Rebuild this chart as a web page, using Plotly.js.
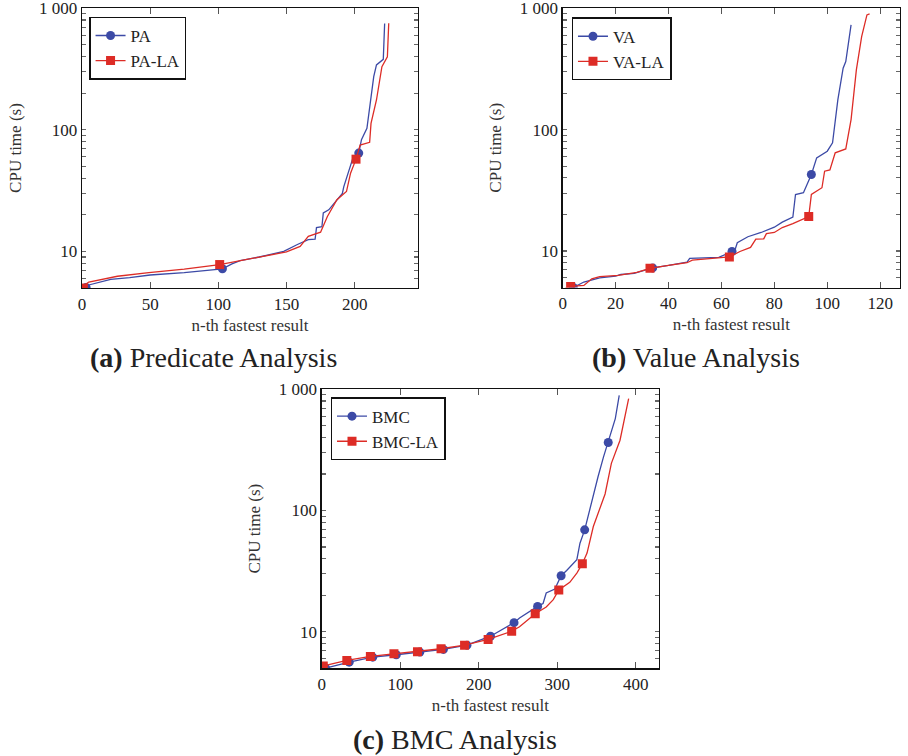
<!DOCTYPE html>
<html>
<head>
<meta charset="utf-8">
<script src="https://cdn.plot.ly/plotly-3.0.1.min.js"></script>
<style>html,body{margin:0;padding:0;background:#fff;}#chart{width:908px;height:756px;}</style>
</head>
<body>
<div id="chart"></div>
<script>
// ---------- data ----------
// (a) Predicate Analysis
var paX  = [1, 3, 5, 10, 21, 35, 50, 75, 97, 103, 110, 116, 130, 148, 158, 166, 171, 172, 176, 177, 181, 185, 191, 192, 196, 199, 203, 205, 209, 211, 214, 216, 220, 221, 222];
var paY  = [4.9, 5.05, 5.3, 5.5, 5.9, 6.1, 6.4, 6.7, 7.05, 7.2, 7.9, 8.4, 9.0, 10.0, 11.4, 12.5, 12.6, 15.7, 16.0, 20.7, 22, 24.7, 30, 34, 48, 60, 64.4, 83, 103, 150, 274, 342, 376, 380, 750];
var paMarks = [3, 103, 203];
var plaX = [1, 3, 5, 13, 26, 49, 75, 101, 123, 150, 160, 166, 175, 180, 187, 194, 197, 201, 204, 211, 212, 216, 220, 224, 225];
var plaY = [5.0, 5.4, 5.6, 5.85, 6.25, 6.7, 7.15, 7.8, 8.65, 9.9, 11, 13.3, 14.4, 19.4, 26.6, 31.1, 44, 57.4, 75, 79, 113, 176, 331, 398, 754];
var plaMarks = [1, 101, 201];

// (b) Value Analysis
var vaX  = [1, 4, 8, 14, 20, 22, 27, 34, 40, 47, 48, 59, 64, 65, 66, 70, 75, 80, 83, 87, 88, 91, 94, 96, 100, 102, 104, 106, 107, 109];
var vaY  = [4.85, 5.0, 5.55, 6.0, 6.2, 6.4, 6.55, 7.25, 7.6, 8.1, 8.7, 8.85, 9.9, 10.0, 11.7, 13.1, 14.2, 15.7, 17.3, 19.0, 29.2, 30.2, 42.7, 58.5, 66.4, 77.8, 176, 321, 364, 730];
var vaMarks = [4, 34, 64, 94];
var vlaX = [1, 3, 8, 11, 14, 21, 28, 33, 40, 47, 49, 59, 63, 67, 71, 73, 76, 77, 80, 83, 87, 93, 94, 98, 99, 101, 103, 107, 109, 111, 113, 115, 116];
var vlaY = [4.95, 5.1, 5.2, 5.9, 6.15, 6.3, 6.65, 7.2, 7.6, 8.0, 8.4, 8.7, 8.93, 9.9, 10.7, 12.5, 12.6, 13.9, 14.2, 15.6, 16.8, 19.2, 29.2, 33.2, 45.4, 46.5, 64.4, 69.3, 121, 311, 584, 881, 898];
var vlaMarks = [3, 33, 63, 93];

// (c) BMC Analysis
var bmcX = [1, 5, 35, 65, 95, 125, 155, 185, 215, 245, 252, 275, 282, 286, 297, 305, 312, 325, 329, 335, 344, 352, 359, 365, 374, 379];
var bmcY = [4.9, 5.02, 5.62, 6.18, 6.47, 6.8, 7.16, 7.76, 9.2, 11.9, 13.0, 16.2, 17.1, 20.9, 22.5, 29.0, 32, 39.3, 53.8, 69.3, 122, 190, 277, 364, 573, 891];
var bmcMarks = [5, 35, 65, 95, 125, 155, 185, 215, 245, 275, 305, 335, 365];
var blaX = [1, 2, 32, 62, 92, 122, 152, 182, 212, 242, 252, 272, 286, 295, 302, 316, 325, 332, 338, 346, 361, 369, 380, 391];
var blaY = [5.2, 5.22, 5.81, 6.26, 6.59, 6.85, 7.25, 7.76, 8.65, 10.1, 11, 14.1, 16.0, 18.4, 22.1, 25.6, 30.5, 36.4, 44.6, 73.8, 137, 245, 380, 837];
var blaMarks = [2, 32, 62, 92, 122, 152, 182, 212, 242, 272, 302, 332, 362];

var xTicksA = [0, 50, 100, 150, 200];
var xTicksB = [0, 20, 40, 60, 80, 100, 120];
var xTicksC = [0, 100, 200, 300, 400];
var yMajorVals = [10, 100, 1000];
var yMajorText = ['10', '100', '1 000'];
var yMinorVals = [5, 6, 7, 8, 9, 20, 30, 40, 50, 60, 70, 80, 90, 200, 300, 400, 500, 600, 700, 800, 900];

// ---------- styles ----------
var BLUE = '#3c4aa6';
var RED = '#dd2c26';
var SERIF = 'Liberation Serif';
var traces = [];

function addSeries(name, xs, ys, marks, color, symbol, xa, ya, legend) {
  traces.push({x: xs, y: ys, mode: 'lines', type: 'scatter', xaxis: xa, yaxis: ya,
    line: {color: color, width: 1.3}, showlegend: false, hoverinfo: 'skip'});
  var mx = [], my = [];
  for (var i = 0; i < xs.length; i++) {
    if (marks.indexOf(xs[i]) >= 0) { mx.push(xs[i]); my.push(ys[i]); }
  }
  traces.push({x: mx, y: my, mode: 'markers', type: 'scatter', xaxis: xa, yaxis: ya,
    marker: {color: color, size: 9, symbol: symbol}, showlegend: false});
  traces.push({x: [null], y: [null], mode: 'lines+markers', type: 'scatter', xaxis: xa, yaxis: ya,
    name: name, legend: legend, line: {color: color, width: 1.3},
    marker: {color: color, size: 9, symbol: symbol}});
}

addSeries('PA', paX, paY, paMarks, BLUE, 'circle', 'x', 'y', 'legend');
addSeries('PA-LA', plaX, plaY, plaMarks, RED, 'square', 'x', 'y', 'legend');
addSeries('VA', vaX, vaY, vaMarks, BLUE, 'circle', 'x2', 'y2', 'legend2');
addSeries('VA-LA', vlaX, vlaY, vlaMarks, RED, 'square', 'x2', 'y2', 'legend2');
addSeries('BMC', bmcX, bmcY, bmcMarks, BLUE, 'circle', 'x3', 'y3', 'legend3');
addSeries('BMC-LA', blaX, blaY, blaMarks, RED, 'square', 'x3', 'y3', 'legend3');

var YRANGE = [0.699, 3.002];
// major + minor ticks on the log axis; minor ones carry no label
var yTickVals = yMajorVals.concat(yMinorVals);
var yTickText = yMajorText.concat(yMinorVals.map(function () { return ''; }));

function xAxis(domain, range, tickvals, anchor) {
  return {domain: domain, range: range, anchor: anchor, tickmode: 'array', tickvals: tickvals,
    ticks: 'inside', ticklen: 6, tickwidth: 1.1, tickcolor: '#555', mirror: 'allticks',
    showline: true, linecolor: '#111', linewidth: 1.3, showgrid: false, zeroline: false,
    ticklabeloverflow: 'allow',
    tickfont: {family: SERIF, size: 17, color: '#222'},
    title: {text: 'n-th fastest result', font: {family: SERIF, size: 17, color: '#333'}, standoff: 6}};
}
function yAxis(domain, anchor) {
  return {domain: domain, type: 'log', range: YRANGE, anchor: anchor,
    tickmode: 'array', tickvals: yTickVals, ticktext: yTickText,
    ticks: 'inside', ticklen: 4.5, tickwidth: 1.1, tickcolor: '#666', mirror: 'allticks',
    showline: true, linecolor: '#111', linewidth: 1.3, showgrid: false, zeroline: false,
    ticklabeloverflow: 'allow',
    tickfont: {family: SERIF, size: 17, color: '#222'},
    title: {text: 'CPU time (s)', font: {family: SERIF, size: 17, color: '#333'}, standoff: 13}};
}
function legendBox(x, y) {
  return {x: x, y: y, xref: 'paper', yref: 'paper', xanchor: 'left', yanchor: 'top',
    bgcolor: '#fff', bordercolor: '#111', borderwidth: 1.3,
    font: {family: SERIF, size: 17, color: '#222'}, tracegroupgap: 0};
}

var layout = {
  width: 908, height: 756, margin: {l: 0, r: 0, t: 0, b: 0},
  paper_bgcolor: '#fff', plot_bgcolor: '#fff', showlegend: true,
  xaxis: xAxis([0.0903, 0.4604], [0, 246.5], xTicksA, 'y'),
  yaxis: yAxis([0.619, 0.9894], 'x'),
  xaxis2: xAxis([0.6197, 0.9912], [0, 127.5], xTicksB, 'y2'),
  yaxis2: yAxis([0.6197, 0.9894], 'x2'),
  xaxis3: xAxis([0.3543, 0.7258], [0, 429.7], xTicksC, 'y3'),
  yaxis3: yAxis([0.116, 0.4854], 'x3'),
  legend: legendBox(0.0983, 0.978),
  legend2: legendBox(0.6296, 0.977),
  legend3: legendBox(0.3642, 0.4745),
  annotations: [
    {text: '<b>(a)</b> Predicate Analysis', x: 213/908, y: 1 - 358/756, xref: 'paper', yref: 'paper',
     showarrow: false, xanchor: 'center', yanchor: 'middle', font: {family: SERIF, size: 28, color: '#222'}},
    {text: '<b>(b)</b> Value Analysis', x: 696/908, y: 1 - 358/756, xref: 'paper', yref: 'paper',
     showarrow: false, xanchor: 'center', yanchor: 'middle', font: {family: SERIF, size: 28, color: '#222'}},
    {text: '<b>(c)</b> BMC Analysis', x: 455/908, y: 1 - 739/756, xref: 'paper', yref: 'paper',
     showarrow: false, xanchor: 'center', yanchor: 'middle', font: {family: SERIF, size: 28, color: '#222'}}
  ]
};

Plotly.newPlot('chart', traces, layout, {staticPlot: true, displayModeBar: false});
</script>
</body>
</html>
